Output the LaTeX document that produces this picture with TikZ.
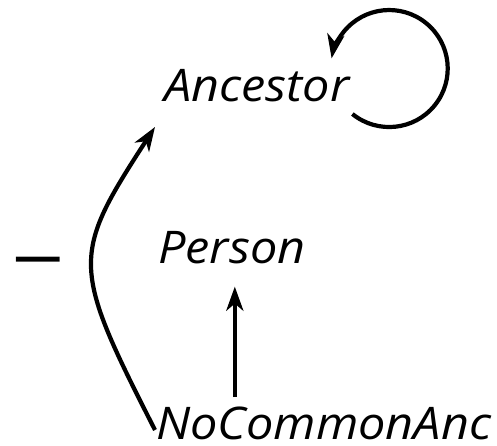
\documentclass[tikz,border=0pt]{standalone}
\usepackage{fontspec}
\setmainfont{Open Sans}[FakeStretch=1.08]
\usetikzlibrary{arrows.meta}

\begin{document}
\begin{tikzpicture}[x=1pt, y=1pt,
    every node/.style={inner sep=0pt, font=\fontsize{45}{52}\selectfont\itshape},
    arr/.style={-{Stealth[length=24pt, width=17pt, inset=7pt]}, line width=4.2pt}]
          \useasboundingbox (0,0) rectangle (497,446);

          % Classes
          \node (anc)[anchor=base west] at (164, 344) {Ancestor};
          \node (per)[anchor=base west] at (158, 182) {Person};
          \node (nca)[anchor=base west] at (156, 6)   {NoCommonAnc};
          \node (dash)[anchor=base, font=\fontsize{44}{52}\selectfont\bfseries] at (38, 174) {—};

          % Ancestor loop
          \draw[arr] ([shift={(3,-12)}]anc.base east) arc[start angle=231, end angle=530, radius=58.5];

          % NoCommonAnc edges
          \draw[arr] ([shift={(-1,10)}]nca.base west) .. controls +(117:185) and +(237:154) .. ([shift={(-9,-25)}]anc.base west);
          \draw[arr, shorten <=10pt, shorten >=22pt] ([xshift=3pt]per.south |- nca.north) -- ([xshift=3pt]per.south);
\end{tikzpicture}
\end{document}
